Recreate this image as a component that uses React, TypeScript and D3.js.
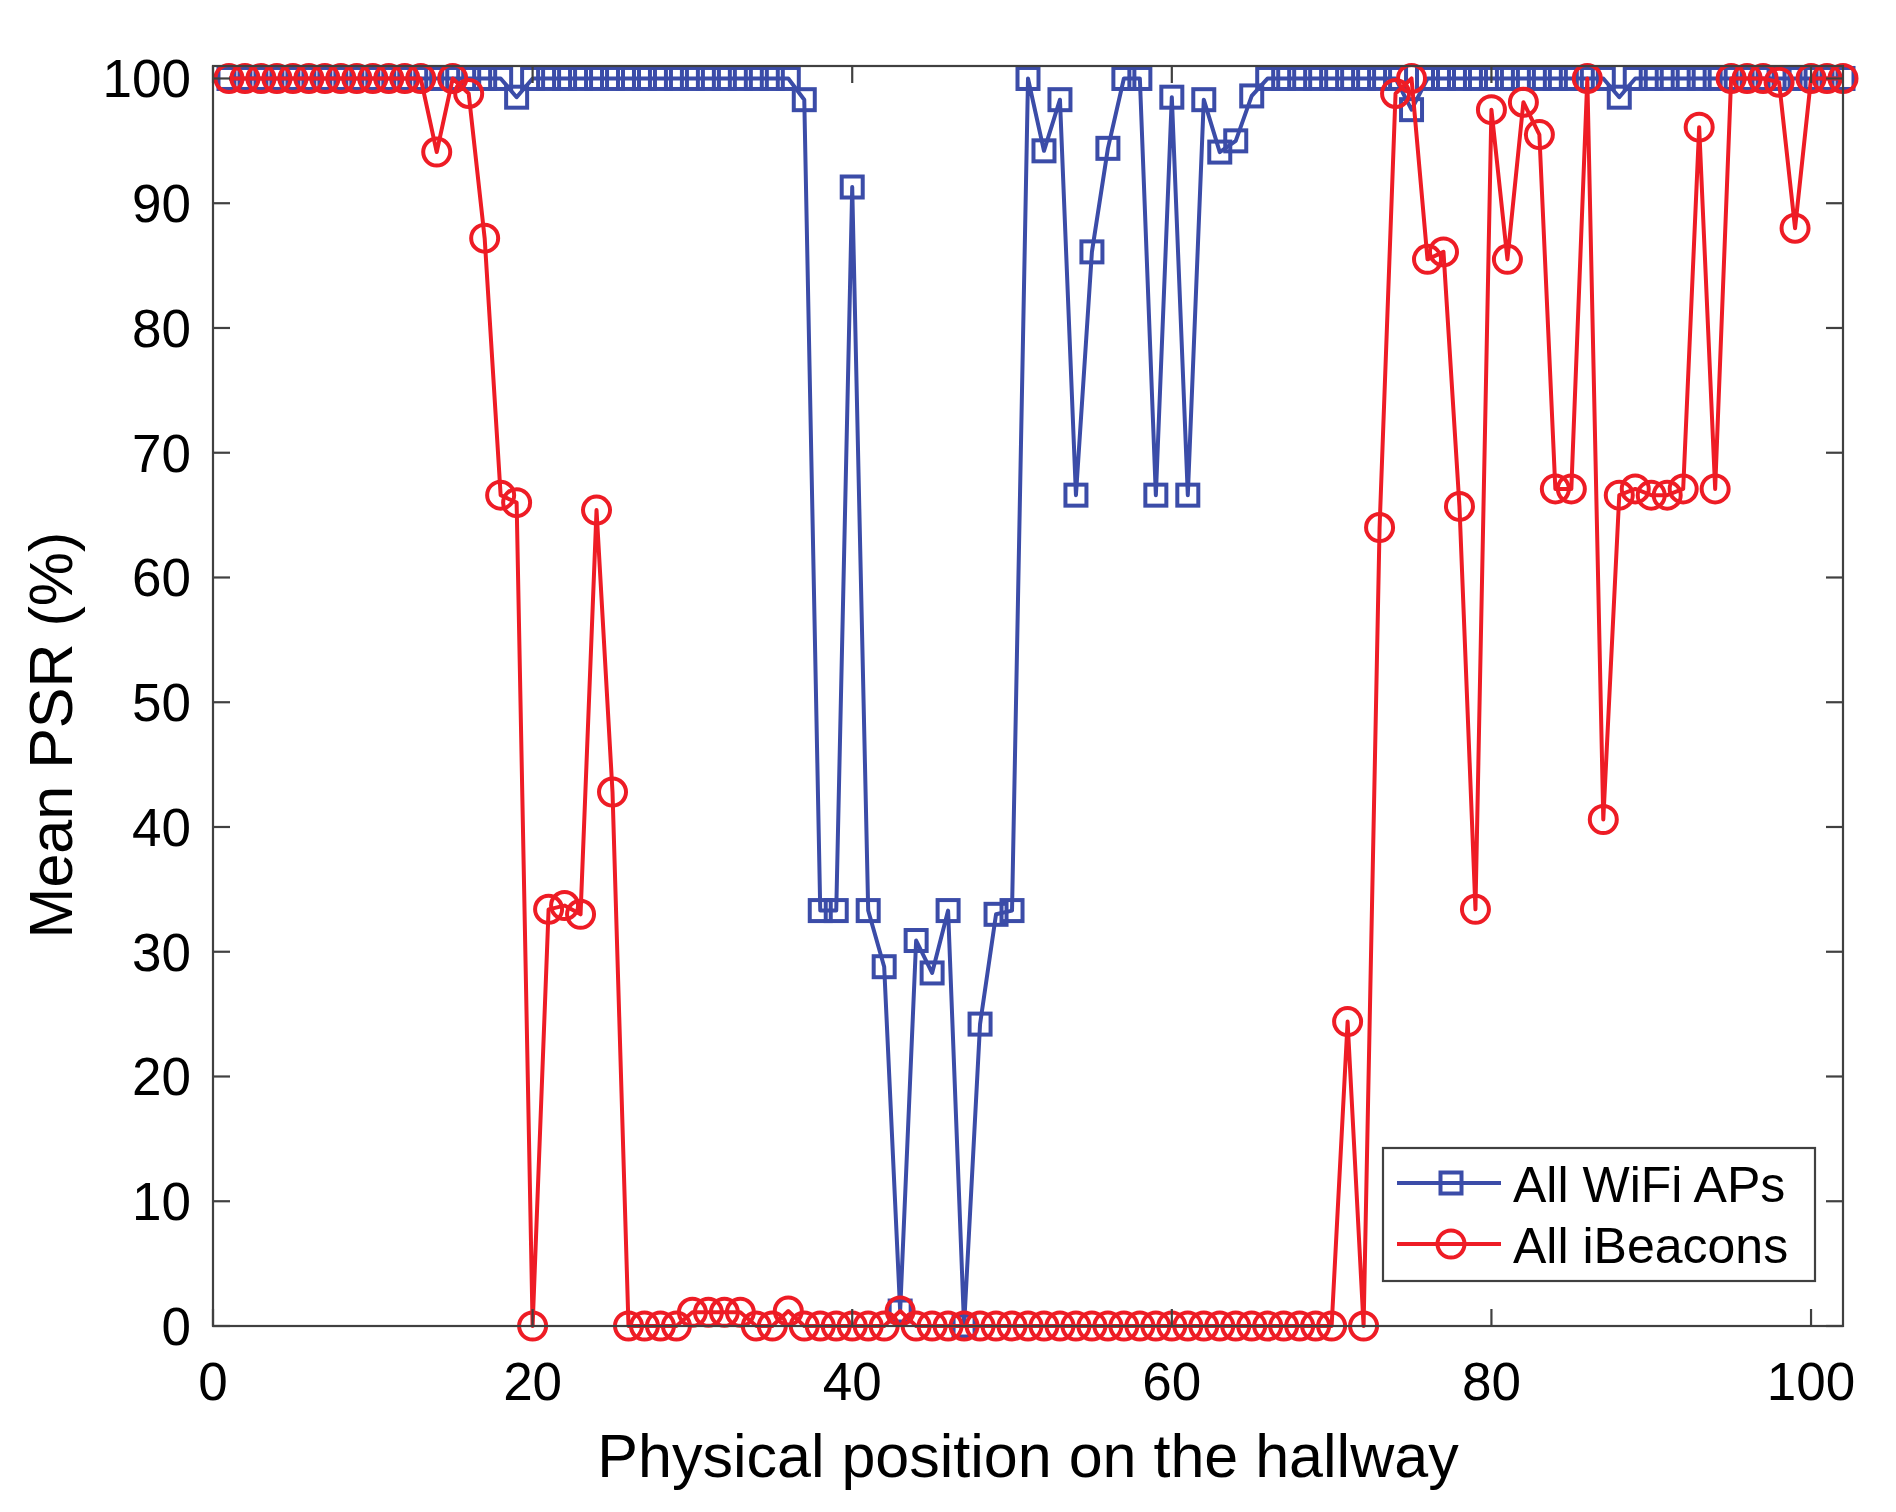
import React, { useEffect, useRef } from 'react';
import * as d3 from 'd3';

// positions 1..102 along the hallway
const wifiPSR = [
  100, 100, 100, 100, 100, 100, 100, 100, 100, 100, 100, 100, 100, 100, 100, 100, 100, 100,
  98.5,
  100, 100, 100, 100, 100, 100, 100, 100, 100, 100, 100, 100, 100, 100, 100, 100, 100,
  98.3, 33.3, 33.3, 91.3, 33.3, 28.8, 1.2, 30.9, 28.3, 33.3, 0, 24.2, 33.0, 33.3,
  100, 94.2, 98.3, 66.6, 86.1, 94.4, 100, 100, 66.6, 98.5, 66.6, 98.3, 94.1, 95.0, 98.6,
  100, 100, 100, 100, 100, 100, 100, 100, 100,
  97.5,
  100, 100, 100, 100, 100, 100, 100, 100, 100, 100, 100, 100,
  98.5,
  100, 100, 100, 100, 100, 100, 100, 100, 100, 100, 100, 100, 100, 100,
];

const beaconPSR = [
  100, 100, 100, 100, 100, 100, 100, 100, 100, 100, 100, 100, 100,
  94.1, 100, 98.8, 87.2, 66.6, 66.0, 0, 33.4, 33.7, 33.0, 65.4, 42.8,
  0, 0, 0, 0, 1.1, 1.1, 1.1, 1.1, 0, 0, 1.2, 0, 0, 0, 0, 0, 0, 1.2,
  0, 0, 0, 0, 0, 0, 0, 0, 0, 0, 0, 0, 0, 0, 0, 0, 0, 0, 0, 0, 0, 0, 0, 0, 0, 0, 0,
  24.4, 0, 64.0, 98.8, 100, 85.5, 86.1, 65.7, 33.4, 97.5, 85.5, 98.1, 95.5, 67.1, 67.1,
  100, 40.6, 66.6, 67.1, 66.6, 66.6, 67.1, 96.1, 67.1, 100, 100, 100, 99.7, 88.0,
  100, 100, 100,
];

const xTicks = [0, 20, 40, 60, 80, 100];
const yTicks = [0, 10, 20, 30, 40, 50, 60, 70, 80, 90, 100];
const seriesNames = ['All WiFi APs', 'All iBeacons'];

const BLUE = '#3b4ca8';
const RED = '#ee1c25';
const AXIS = '#404040';
const FONT = '"Liberation Sans", Arial, Helvetica, sans-serif';
const LW = 4;

const App: React.FC = () => {
  const ref = useRef<SVGSVGElement>(null);

  useEffect(() => {
    const svg = d3.select(ref.current);
    svg.selectAll('*').remove();

    const W = 1896;
    const H = 1512;
    const left = 213;
    const right = 1843;
    const top = 66;
    const bottom = 1326;

    const x = d3.scaleLinear().domain([0, 102]).range([left, right]);
    const y = d3.scaleLinear().domain([0, 101]).range([bottom, top]);

    svg.append('rect').attr('width', W).attr('height', H).attr('fill', '#fff');

    const line = d3
      .line<number>()
      .x((_, i) => x(i + 1))
      .y((d) => y(d));

    const plot = svg.append('g');

    // WiFi
    plot
      .append('path')
      .datum(wifiPSR)
      .attr('d', line)
      .attr('fill', 'none')
      .attr('stroke', BLUE)
      .attr('stroke-width', LW)
      .attr('stroke-linejoin', 'round');
    plot
      .selectAll('rect.sq')
      .data(wifiPSR)
      .enter()
      .append('rect')
      .attr('class', 'sq')
      .attr('x', (_, i) => x(i + 1) - 10.5)
      .attr('y', (d) => y(d) - 10.5)
      .attr('width', 21)
      .attr('height', 21)
      .attr('fill', 'none')
      .attr('stroke', BLUE)
      .attr('stroke-width', LW);

    // iBeacons
    plot
      .append('path')
      .datum(beaconPSR)
      .attr('d', line)
      .attr('fill', 'none')
      .attr('stroke', RED)
      .attr('stroke-width', LW)
      .attr('stroke-linejoin', 'round');
    plot
      .selectAll('circle.ci')
      .data(beaconPSR)
      .enter()
      .append('circle')
      .attr('class', 'ci')
      .attr('cx', (_, i) => x(i + 1))
      .attr('cy', (d) => y(d))
      .attr('r', 13.5)
      .attr('fill', 'none')
      .attr('stroke', RED)
      .attr('stroke-width', LW);

    // axes box
    const tickLen = 17;
    const axisG = svg.append('g').attr('stroke', AXIS).attr('stroke-width', 2.2);
    axisG
      .append('rect')
      .attr('x', left)
      .attr('y', top)
      .attr('width', right - left)
      .attr('height', bottom - top)
      .attr('fill', 'none');

    xTicks.forEach((t) => {
      axisG.append('line').attr('x1', x(t)).attr('x2', x(t)).attr('y1', bottom).attr('y2', bottom - tickLen);
      axisG.append('line').attr('x1', x(t)).attr('x2', x(t)).attr('y1', top).attr('y2', top + tickLen);
    });
    yTicks.forEach((t) => {
      axisG.append('line').attr('x1', left).attr('x2', left + tickLen).attr('y1', y(t)).attr('y2', y(t));
      axisG.append('line').attr('x1', right).attr('x2', right - tickLen).attr('y1', y(t)).attr('y2', y(t));
    });

    const txt = svg.append('g').attr('font-family', FONT).attr('fill', '#000');

    xTicks.forEach((t) => {
      txt
        .append('text')
        .attr('x', x(t))
        .attr('y', 1400)
        .attr('text-anchor', 'middle')
        .attr('font-size', 53)
        .text(t);
    });
    yTicks.forEach((t) => {
      txt
        .append('text')
        .attr('x', 191)
        .attr('y', y(t) + 19)
        .attr('text-anchor', 'end')
        .attr('font-size', 53)
        .text(t);
    });

    txt
      .append('text')
      .attr('x', (left + right) / 2)
      .attr('y', 1477)
      .attr('text-anchor', 'middle')
      .attr('font-size', 61)
      .text('Physical position on the hallway');

    txt
      .append('text')
      .attr('transform', `translate(72,735) rotate(-90)`)
      .attr('text-anchor', 'middle')
      .attr('font-size', 61)
      .text('Mean PSR (%)');

    // legend
    const lg = svg.append('g');
    lg.append('rect')
      .attr('x', 1383)
      .attr('y', 1148)
      .attr('width', 432)
      .attr('height', 133)
      .attr('fill', '#fff')
      .attr('stroke', AXIS)
      .attr('stroke-width', 2.2);

    const rows = [
      { name: seriesNames[0], color: BLUE, y: 1183, marker: 'square' },
      { name: seriesNames[1], color: RED, y: 1244, marker: 'circle' },
    ];
    rows.forEach((r) => {
      lg.append('line')
        .attr('x1', 1397)
        .attr('x2', 1501)
        .attr('y1', r.y)
        .attr('y2', r.y)
        .attr('stroke', r.color)
        .attr('stroke-width', LW);
      if (r.marker === 'square') {
        lg.append('rect')
          .attr('x', 1451 - 10.5)
          .attr('y', r.y - 10.5)
          .attr('width', 21)
          .attr('height', 21)
          .attr('fill', 'none')
          .attr('stroke', r.color)
          .attr('stroke-width', LW);
      } else {
        lg.append('circle')
          .attr('cx', 1451)
          .attr('cy', r.y)
          .attr('r', 13.5)
          .attr('fill', 'none')
          .attr('stroke', r.color)
          .attr('stroke-width', LW);
      }
      lg.append('text')
        .attr('x', 1513)
        .attr('y', r.y + 19)
        .attr('font-family', FONT)
        .attr('font-size', 50)
        .attr('fill', '#000')
        .text(r.name);
    });
  }, []);

  return (
    <svg
      ref={ref}
      width={1896}
      height={1512}
      style={{ position: 'absolute', left: 0, top: 0, display: 'block' }}
    />
  );
};

export default App;
